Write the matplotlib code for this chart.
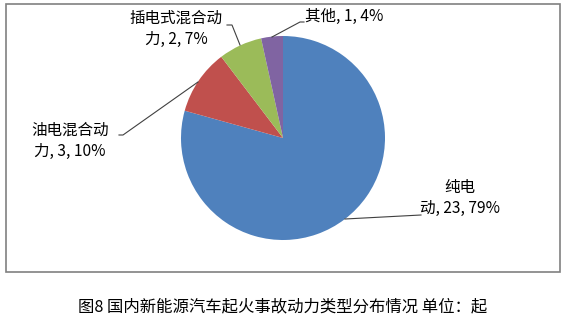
import matplotlib
matplotlib.use('Agg')
import matplotlib.pyplot as plt
from matplotlib.patches import Rectangle

plt.rcParams['font.family'] = ['Noto Sans CJK SC', 'DejaVu Sans']

# 数据
labels = ['纯电动', '油电混合动力', '插电式混合动力', '其他']
counts = [23, 3, 2, 1]
pcts = ['79%', '10%', '7%', '4%']
colors = ['#4F81BD', '#C0504D', '#9BBB59', '#8064A2']
label_texts = ['纯电\n动, 23, 79%', '油电混合动\n力, 3, 10%', '插电式混合动\n力, 2, 7%', '其他, 1, 4%']
caption = '图8 国内新能源汽车起火事故动力类型分布情况 单位：起'

W, H = 566, 324
fig = plt.figure(figsize=(W / 100, H / 100), dpi=100)

# 外框
fig.patches.append(Rectangle((6 / W, 1 - 272 / H), 554 / W, 268 / H, transform=fig.transFigure,
                             fill=False, edgecolor='#808080', linewidth=1.2))

# 饼图 圆心(283,138) 半径102像素
cx, cy, r = 283, 138, 102
ax = fig.add_axes([(cx - r) / W, 1 - (cy + r) / H, 2 * r / W, 2 * r / H])
wedges, _ = ax.pie(counts, colors=colors, startangle=90, counterclock=False, radius=1)
ax.set_xlim(-1, 1)
ax.set_ylim(-1, 1)
ax.set_aspect('equal')
ax.axis('off')


def px(x, y):
    return (x - cx) / r, (cy - y) / r


# 标签位置（像素）和引线
text_pos = [(460, 198, 'center'), (70, 141, 'center'), (176, 29, 'center'), (305, 16, 'left')]
leaders = [
    [(345, 219), (421, 215)],
    [(198, 82), (123, 135), (119, 135)],
    [(240, 45), (232, 25), (227, 25)],
    [(272, 37), (300, 22), (304, 22)],
]

for (tx, ty, ha), txt, pts in zip(text_pos, label_texts, leaders):
    x, y = px(tx, ty)
    ax.text(x, y, txt, ha=ha, va='center', fontsize=11.2, linespacing=1.3, clip_on=False)
    xs = [px(*p)[0] for p in pts]
    ys = [px(*p)[1] for p in pts]
    ax.plot(xs, ys, color='#404040', linewidth=0.8, clip_on=False)

fig.text(0.5, 1 - 307 / H, caption, ha='center', va='center', fontsize=11.8)

fig.savefig('out.png', dpi=100)
